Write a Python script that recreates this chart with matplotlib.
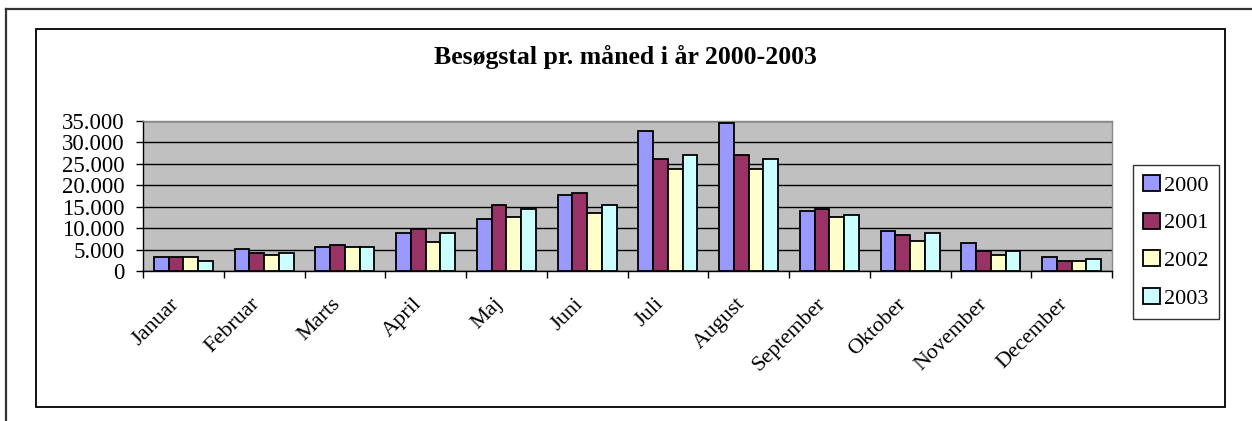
import numpy as np
import matplotlib
matplotlib.use('Agg')
import matplotlib.pyplot as plt
from matplotlib.ticker import FuncFormatter, FixedLocator
from matplotlib.lines import Line2D
from matplotlib.patches import Rectangle

plt.rcParams.update({'font.family':'Liberation Serif','font.size':16,
    'axes.linewidth':1.0,'xtick.major.width':1.0,'ytick.major.width':1.0})

months=['Januar','Februar','Marts','April','Maj','Juni','Juli','August',
        'September','Oktober','November','December']
years=['2000','2001','2002','2003']
v2000=[3200,5100,5600,8900,12100,17700,32600,34500,14000,9300,6500,3300]
v2001=[3200,4200,6100,9800,15300,18100,26100,27100,14500,8400,4600,2300]
v2002=[3200,3700,5600,6800,12600,13500,23700,23700,12600,7000,3700,2300]
v2003=[2300,4200,5600,8800,14400,15300,27100,26100,13100,8800,4600,2800]
series=[v2000,v2001,v2002,v2003]
colors=['#9999FF','#993366','#FFFFCC','#CCFFFF']

W,H=1252,421
fig=plt.figure(figsize=(W/100,H/100),dpi=100)
fig.patch.set_facecolor('white')

# frames (outer page border + chart border)
fig.add_artist(Line2D([6/W,6/W],[0,1-9/H],color='#333333',lw=1.6))
fig.add_artist(Line2D([6/W,1],[1-9/H,1-9/H],color='#333333',lw=1.6))
fig.add_artist(Rectangle((36/W,1-407/H),(1225-36)/W,(407-29)/H,fill=False,
                         edgecolor='black',lw=1.3))

ax=fig.add_axes([143/W,1-271/H,(1112-143)/W,(271-121)/H])
ax.set_facecolor('#C0C0C0')
x=np.arange(len(months))
bw=0.182
for i,(vals,col,yr) in enumerate(zip(series,colors,years)):
    ax.bar(x+(i-1.5)*bw,vals,width=bw,color=col,edgecolor='black',linewidth=1.3,
           label=yr,zorder=3)

ax.set_xlim(-0.5,len(months)-0.5)
ax.set_ylim(0,35000)
ax.set_yticks(np.arange(0,35001,5000))
ax.yaxis.set_major_formatter(FuncFormatter(lambda v,_:f'{int(v):,}'.replace(',','.')))
ax.grid(axis='y',color='black',linewidth=1.0,zorder=1)
ax.set_axisbelow(True)
for s in ['top','right']:
    ax.spines[s].set_color('#888888')

ax.xaxis.set_major_locator(FixedLocator(np.arange(-0.5,len(months),1.0)))
ax.xaxis.set_minor_locator(FixedLocator(x))
ax.set_xticklabels([])
ax.set_xticklabels(months,minor=True,rotation=45,ha='right',fontsize=16)
ax.tick_params(axis='x',which='major',length=5,direction='out')
ax.tick_params(axis='x',which='minor',length=0,pad=17)
ax.tick_params(axis='y',length=5,pad=8,labelsize=16.5)

leg=ax.legend(loc='upper left',bbox_to_anchor=(1133/W,1-165/H),
              bbox_transform=fig.transFigure,fontsize=16,frameon=True,
              fancybox=False,edgecolor='black',borderpad=0.45,labelspacing=0.75,
              handlelength=0.75,handleheight=0.75,handletextpad=0.2,borderaxespad=0)
leg.get_frame().set_linewidth(1.0)

fig.text(625.5/W,1-57/H,'Besøgstal pr. måned i år 2000-2003',ha='center',va='center',
         fontsize=18.5,fontweight='bold')

fig.savefig('out.png',dpi=100)
